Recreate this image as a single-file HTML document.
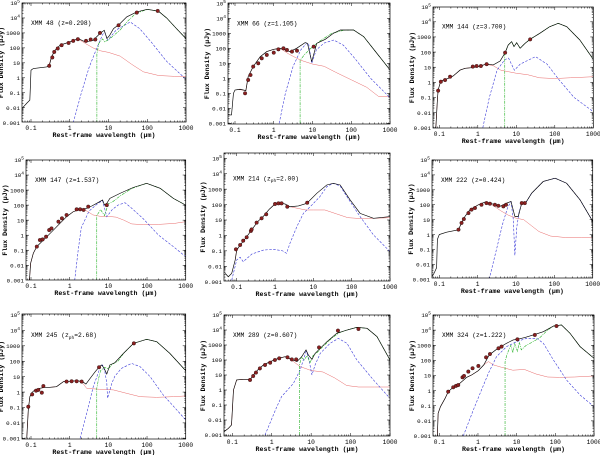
<!DOCTYPE html>
<html><head><meta charset="utf-8"><style>
html,body{margin:0;padding:0;background:#fff;}
svg{display:block;font-family:"Liberation Mono",monospace;}
</style></head><body>
<svg id="fig" width="600" height="455" viewBox="0 0 600 455" xmlns="http://www.w3.org/2000/svg"></svg>
<script>
// All values are [log10 wavelength (um), log10 flux density (uJy)]
const xTickLabels = ["0.1","1","10","100","1000"];
const yTickLabels = ["0.001","0.01","0.1","1","10","100","1000","10^4","10^5"];
const panelTitles = ["XMM 48 (z=0.298)","XMM 66 (z=1.105)","XMM 144 (z=3.700)","XMM 147 (z=1.537)","XMM 214 (z_ph=2.00)","XMM 222 (z=0.424)","XMM 245 (z_ph=2.68)","XMM 289 (z=0.607)","XMM 324 (z=1.222)"];

const p1Total=[[-1.23,-2.04],[-1.11,-1.7],[-1.03,-1.49],[-1.0,0.51],[-0.94,0.62],[-0.6,0.73],[-0.53,0.8],[-0.47,1.4],[-0.38,1.84],[-0.25,2.18],[0,2.4],[0.22,2.62],[0.4,2.4],[0.6,2.5],[0.78,2.96],[0.89,3.18],[0.96,2.62],[1.03,2.84],[1.13,3.29],[1.28,3.58],[1.47,4.07],[1.73,4.4],[2,4.58],[2.29,4.45],[2.5,4.0],[2.75,3.3],[3,2.62]];
const p1Stellar=[[-0.55,0.75],[-0.47,1.4],[-0.38,1.84],[-0.25,2.18],[0,2.4],[0.22,2.6],[0.4,2.3],[0.6,2.0],[0.8,1.8],[1.0,1.7],[1.3,1.45],[1.6,0.9],[1.9,0.4],[2.3,0.15],[2.7,0.1],[3,0.1]];
const p1Torus=[[0.09,-3],[0.3,-1],[0.5,0.7],[0.7,2.0],[0.85,2.9],[0.9,3.07],[0.98,2.5],[1.2,3.2],[1.56,3.73],[1.8,3.3],[2.1,2.4],[2.5,1.1],[3,-0.1]];
const p1Starburst=[[0.7,-3],[0.7,1.6],[0.75,2.3],[0.85,2.6],[0.9,2.4],[1.0,2.55],[1.1,2.75],[1.3,3.2],[1.5,3.8],[1.7,4.3],[2,4.57],[2.29,4.45],[2.5,4.0],[2.75,3.3],[3,2.62]];
const p1Points=[[-0.53,0.8],[-0.45,1.36],[-0.4,1.73],[-0.31,1.96],[-0.21,2.18],[-0.03,2.33],[0.09,2.47],[0.21,2.58],[0.42,2.47],[0.54,2.56],[0.66,2.56],[0.78,3.0],[1.26,3.51],[1.73,4.36],[2.27,4.47]];

const p2Total=[[-1.17,-2.44],[-1.09,-2.44],[-1.04,-1.0],[-1,-0.78],[-0.87,-0.73],[-0.72,-0.82],[-0.66,0.11],[-0.53,0.78],[-0.35,1.44],[-0.18,1.78],[0,1.93],[0.16,2.0],[0.42,1.78],[0.59,2.0],[0.81,2.38],[0.87,2.33],[0.98,1.11],[1.11,2.33],[1.33,2.6],[1.54,3.0],[1.72,3.22],[2.06,3.22],[2.32,2.78],[2.66,1.67],[3,0.56]];
const p2Stellar=[[-0.9,-0.75],[-0.72,-0.82],[-0.66,0.11],[-0.53,0.78],[-0.35,1.44],[-0.18,1.78],[0,1.93],[0.16,2.0],[0.4,1.6],[0.7,1.2],[1,0.95],[1.3,0.8],[1.6,0.4],[2,-0.1],[2.4,-0.6],[2.7,-1.2],[3,-1.2]];
const p2Torus=[[0.14,-3],[0.3,-1],[0.5,0.8],[0.7,1.9],[0.85,2.35],[0.9,2.3],[0.98,1.0],[1.1,1.9],[1.3,2.35],[1.55,2.55],[1.8,2.2],[2.1,1.3],[2.5,0],[3,-1.3]];
const p2Starburst=[[0.68,-3],[0.68,1.2],[0.8,1.6],[1.0,2.1],[1.2,2.5],[1.5,3.0],[1.8,3.2],[2.06,3.22],[2.32,2.78],[2.66,1.67],[3,0.56]];
const p2Points=[[-0.74,-1],[-0.66,-0.11],[-0.6,0.22],[-0.53,0.78],[-0.4,1],[-0.31,1.33],[-0.18,1.56],[0,1.71],[0.12,1.93],[0.25,2.0],[0.34,1.89],[0.47,1.78],[0.6,1.84],[1.03,2.11]];

const p3Total=[[-1.09,-3],[-1.05,-1.17],[-1.03,-0.5],[-0.98,-0.07],[-0.9,0.15],[-0.77,0.26],[-0.64,0.42],[-0.46,0.81],[-0.33,0.93],[-0.16,0.97],[0.01,1.04],[0.23,1.21],[0.4,1.15],[0.58,1.41],[0.71,1.96],[0.79,2.47],[0.88,2.69],[0.94,2.36],[1.01,2.62],[1.1,2.25],[1.23,2.58],[1.36,2.85],[1.61,3.24],[1.87,3.68],[2.09,3.9],[2.31,3.68],[2.65,2.8],[3,1.52]];
const p3Stellar=[[-1.09,-3],[-1.05,-1.17],[-1.03,-0.5],[-0.98,-0.07],[-0.9,0.15],[-0.77,0.26],[-0.64,0.42],[-0.46,0.81],[-0.33,0.93],[-0.16,0.97],[0.01,1.04],[0.2,1.2],[0.4,1.1],[0.6,0.8],[0.8,0.7],[1.0,0.6],[1.3,0.5],[1.6,0.3],[2,0.25],[2.4,0.3],[3,0.37]];
const p3Torus=[[0.13,-3],[0.3,-1],[0.5,0.8],[0.7,1.5],[0.8,1.6],[0.95,0.8],[1.1,1.2],[1.3,1.45],[1.5,1.7],[1.8,1.2],[2.1,0.2],[2.5,-1.0],[3,-1.94]];
const p3Starburst=[[0.7,-3],[0.7,1.9],[0.79,2.47],[0.88,2.69],[0.94,2.36],[1.01,2.62],[1.1,2.25],[1.23,2.58],[1.36,2.85],[1.61,3.24],[1.87,3.68],[2.09,3.9],[2.31,3.68],[2.65,2.8],[3,1.52]];
const p3Points=[[-1.03,-0.55],[-0.96,0.04],[-0.85,0.15],[-0.72,0.37],[-0.13,1.04],[-0.03,1.08],[0.08,1.08],[0.23,1.2],[0.71,1.96],[1.36,2.84]];

const p4Total=[[-1.04,-3],[-1.01,-1.87],[-0.94,-1.2],[-0.85,-0.76],[-0.72,-0.43],[-0.59,-0.1],[-0.42,0.34],[-0.25,0.79],[-0.08,1.23],[0.09,1.56],[0.27,1.72],[0.44,1.78],[0.57,1.94],[0.7,2.12],[0.85,2.34],[0.9,2.01],[0.96,2.12],[1.04,2.45],[1.3,2.78],[1.65,3.18],[1.99,3.45],[2.34,3.12],[2.68,2.45],[3,2.0]];
const p4Stellar=[[-1.04,-3],[-1.01,-1.87],[-0.94,-1.2],[-0.85,-0.76],[-0.72,-0.43],[-0.59,-0.1],[-0.42,0.34],[-0.25,0.79],[-0.08,1.23],[0.09,1.56],[0.3,1.75],[0.45,1.6],[0.6,1.35],[0.8,1.25],[1.0,1.25],[1.2,1.2],[1.4,1.0],[1.6,0.75],[1.9,0.7],[2.3,0.72],[2.7,0.78],[3,0.9]];
const p4Torus=[[0.13,-3],[0.22,-1.0],[0.3,0.5],[0.5,1.6],[0.7,2.05],[0.85,2.3],[0.96,1.23],[1.1,1.7],[1.25,2.0],[1.43,2.16],[1.6,1.8],[1.9,1.1],[2.3,0],[2.7,-0.8],[3,-1.43]];
const p4Starburst=[[0.7,-3],[0.7,1.3],[0.8,1.7],[0.9,1.3],[1.0,2.1],[1.1,2.2],[1.3,2.6],[1.6,3.1],[1.99,3.45],[2.34,3.12],[2.68,2.45],[3,2.0]];
const p4Points=[[-0.85,-0.76],[-0.77,-0.32],[-0.7,-0.28],[-0.61,-0.1],[-0.53,0.34],[-0.47,0.45],[-0.29,0.9],[-0.2,1.12],[-0.08,1.34],[0.18,1.72],[0.27,1.72],[0.36,1.68],[0.48,1.9],[0.96,2.0]];

const p5Total=[[-1.3,-2.46],[-1.22,-2.68],[-1.13,-2.46],[-1.04,-1.6],[-1,-0.95],[-0.9,-0.6],[-0.75,-0.12],[-0.6,0.39],[-0.45,0.9],[-0.3,1.25],[-0.15,1.7],[0,2.04],[0.13,2.08],[0.26,2.04],[0.39,1.86],[0.61,1.91],[0.83,2.08],[1.09,2.73],[1.35,3.27],[1.52,3.38],[1.7,3.27],[1.96,2.3],[2.22,1.43],[2.57,1.11],[3,1.22]];
const p5Stellar=[[-1.04,-1.6],[-1,-0.95],[-0.9,-0.6],[-0.75,-0.12],[-0.6,0.39],[-0.45,0.9],[-0.3,1.25],[-0.15,1.7],[0,2.04],[0.13,2.08],[0.26,2.04],[0.39,1.86],[0.6,1.75],[0.8,1.65],[1.0,1.65],[1.3,1.65],[1.6,1.4],[1.9,1.15],[2.2,1.1],[2.5,1.1],[3,1.15]];
const p5Torus=[[-1.13,-2.9],[-1,-1.59],[-0.91,-1.42],[-0.83,-1.7],[-0.6,-1.2],[-0.3,-0.95],[-0.05,-0.9],[0.2,-1.0],[0.3,-1.16],[0.39,-0.51],[0.57,0.57],[0.74,1.43],[0.96,1.97],[1.17,2.51],[1.35,3.16],[1.52,3.38],[1.7,3.2],[1.96,2.19],[2.22,1.22],[2.57,0.03],[3,-1.05]];
const p5Starburst=[];
const p5Points=[[-1.02,-0.9],[-0.91,-0.62],[-0.83,-0.34],[-0.74,-0.12],[-0.63,0.29],[-0.61,0.39],[-0.48,0.83],[-0.35,1.11],[-0.23,1.37],[0,2.04],[0.09,2.08],[0.17,2.08],[0.32,1.86],[0.84,2.12]];

const p6Total=[[-1.2,-2.89],[-1.13,-2.56],[-1.07,-2.22],[-1.05,-0.33],[-1,0],[-0.81,0.16],[-0.55,0.29],[-0.5,0.33],[-0.42,0.78],[-0.33,1.22],[-0.2,1.67],[0.02,2.0],[0.19,2.18],[0.41,2.04],[0.58,1.89],[0.76,2.11],[0.87,2.22],[0.97,1.22],[1.06,1.22],[1.15,2.11],[1.26,2.16],[1.41,2.78],[1.71,3.56],[2.02,3.78],[2.32,3.44],[2.67,2.33],[3,0.89]];
const p6Stellar=[[-0.5,0.33],[-0.42,0.78],[-0.33,1.22],[-0.2,1.67],[0.02,2.0],[0.19,2.18],[0.4,1.95],[0.6,1.6],[0.8,1.3],[1.0,1.1],[1.2,1.0],[1.4,0.6],[1.6,0.2],[1.9,-0.1],[2.3,-0.2],[2.7,-0.2],[3,-0.22]];
const p6Torus=[[0.3,-3],[0.5,-0.9],[0.65,0.7],[0.78,1.8],[0.87,2.2],[0.93,1.0],[0.97,-1.4],[1.02,0.5],[1.08,1.5],[1.15,2.1],[1.26,2.16],[1.41,2.78],[1.71,3.56],[2.02,3.78],[2.32,3.44],[2.67,2.33],[3,0.89]];
const p6Starburst=[];
const p6Points=[[-0.5,0.33],[-0.42,0.78],[-0.36,1.04],[-0.24,1.44],[-0.16,1.67],[-0.07,1.78],[0.1,2.0],[0.23,2.11],[0.32,2.07],[0.45,2.0],[0.54,1.93],[0.67,1.89],[0.74,2.0],[1.15,2.11],[1.23,2.11]];

const p7Total=[[-1.11,-3],[-1.07,-1.16],[-1.03,-0.3],[-0.98,-0.04],[-0.9,0.14],[-0.77,0.24],[-0.64,0.31],[-0.51,0.31],[-0.34,0.35],[-0.16,0.68],[0,0.7],[0.2,0.74],[0.33,0.68],[0.42,0.52],[0.53,0.89],[0.66,1.32],[0.77,1.65],[0.83,1.76],[0.89,1.54],[0.96,1.17],[1.04,1.76],[1.17,1.91],[1.39,2.51],[1.65,3.16],[1.99,3.42],[2.25,3.27],[2.59,2.51],[3,1.39]];
const p7Stellar=[[-1.11,-3],[-1.07,-1.16],[-1.03,-0.3],[-0.98,-0.04],[-0.9,0.14],[-0.77,0.24],[-0.64,0.31],[-0.51,0.31],[-0.34,0.35],[-0.16,0.68],[0,0.7],[0.2,0.74],[0.33,0.6],[0.44,0.24],[0.78,0.18],[1.13,0.14],[1.47,-0.08],[1.82,-0.3],[2.25,-0.34],[2.68,-0.3],[3,-0.25]];
const p7Torus=[[0.27,-3],[0.44,-1.38],[0.61,0.35],[0.78,1.54],[0.85,1.76],[0.91,1.32],[0.96,0.57],[0.98,-0.4],[1.09,0.57],[1.17,1.04],[1.34,1.54],[1.6,1.86],[1.82,1.65],[2.08,1.0],[2.42,-0.19],[2.77,-1.16],[3,-1.81]];
const p7Starburst=[[0.7,-3],[0.7,0.24],[0.75,0.9],[0.8,1.4],[0.9,1.6],[1.0,1.5],[1.1,1.8],[1.25,2.0],[1.39,2.5],[1.65,3.16],[1.99,3.42],[2.25,3.27],[2.59,2.51],[3,1.39]];
const p7Points=[[-1.07,-0.95],[-0.97,-0.15],[-0.87,0.09],[-0.81,0.14],[-0.72,-0.04],[-0.68,0.39],[-0.08,0.68],[0.05,0.7],[0.18,0.7],[0.31,0.68],[0.76,1.61],[1.66,3.16]];

const p8Total=[[-1.21,-2.78],[-1.1,-2.56],[-1.02,-2.33],[-0.97,0],[-0.89,0.67],[-0.72,0.71],[-0.59,0.71],[-0.55,0.67],[-0.47,1],[-0.34,1.38],[-0.21,1.67],[-0.04,1.89],[0.17,2.11],[0.34,2.22],[0.51,2.04],[0.64,1.89],[0.76,2.22],[0.87,2.67],[0.93,2.33],[1.02,2.04],[1.1,2.44],[1.23,2.78],[1.4,3.22],[1.65,3.78],[1.91,4.0],[2.16,4.18],[2.42,4.11],[2.67,3.56],[3,2.0]];
const p8Stellar=[[-1.21,-2.78],[-1.1,-2.56],[-1.02,-2.33],[-0.97,0],[-0.89,0.67],[-0.72,0.71],[-0.59,0.71],[-0.55,0.67],[-0.47,1],[-0.34,1.38],[-0.21,1.67],[-0.04,1.89],[0.17,2.11],[0.34,2.22],[0.5,2.0],[0.72,1.56],[1.0,1.3],[1.3,1.2],[1.6,0.8],[1.9,0.3],[2.2,0.2],[2.6,0.2],[3,0.2]];
const p8Torus=[[-0.17,-3],[0.13,-1.11],[0.25,-0.44],[0.4,0],[0.55,0.44],[0.72,1.33],[0.87,2.56],[0.93,2.22],[1.02,1.0],[1.1,1.67],[1.23,2.44],[1.48,3.11],[1.69,3.44],[1.91,3.11],[2.16,2.0],[2.58,0.67],[3,-0.56]];
const p8Starburst=[[0.7,-3],[0.7,1.6],[0.75,2.2],[0.82,2.0],[0.9,2.3],[0.97,1.8],[1.05,2.3],[1.15,2.5],[1.3,2.9],[1.5,3.4],[1.7,3.8],[1.91,4.0],[2.16,4.18],[2.42,4.11],[2.67,3.56],[3,2.0]];
const p8Points=[[-0.55,0.67],[-0.47,0.93],[-0.4,1.16],[-0.3,1.44],[-0.17,1.67],[-0.04,1.82],[0.08,2.0],[0.19,2.11],[0.4,2.18],[0.51,2.04],[0.62,2.04],[1.2,2.84],[1.68,3.96],[2.2,4.07]];

const p9Total=[[-1.05,-3],[-1.03,-1.5],[-0.97,-1.06],[-0.85,-0.51],[-0.77,-0.07],[-0.64,0.22],[-0.47,0.48],[-0.29,0.88],[-0.16,1.04],[0.01,1.32],[0.15,1.7],[0.29,2.36],[0.48,2.73],[0.74,3.13],[0.91,3.35],[1.02,3.39],[1.22,3.52],[1.43,3.68],[1.69,3.9],[1.95,4.27],[2.16,4.34],[2.38,3.79],[2.64,2.91],[3,2.14]];
const p9Stellar=[[-1.05,-3],[-1.03,-1.5],[-0.97,-1.06],[-0.85,-0.51],[-0.77,-0.07],[-0.64,0.22],[-0.47,0.48],[-0.29,0.88],[-0.16,1.04],[0.01,1.32],[0.15,1.7],[0.27,1.92],[0.4,1.7],[0.6,1.55],[0.9,1.35],[1.2,1.4],[1.5,1.1],[1.8,0.9],[2.1,0.88],[2.5,0.9],[3,0.97]];
const p9Torus=[[-0.38,-3],[-0.12,-1.28],[0.09,0.04],[0.27,1.15],[0.48,2.25],[0.74,2.91],[1.0,3.24],[1.26,3.46],[1.52,3.46],[1.69,3.13],[1.95,2.03],[2.29,0.7],[2.64,-0.29],[3,-1.06]];
const p9Starburst=[[0.7,-3],[0.7,1.9],[0.75,2.4],[0.85,3.0],[0.9,2.5],[0.95,3.1],[1.02,2.6],[1.07,3.2],[1.12,2.7],[1.25,3.0],[1.4,3.2],[1.6,3.5],[1.8,4.0],[1.95,4.27],[2.16,4.34],[2.38,3.79],[2.64,2.91],[3,2.14]];
const p9Points=[[-0.77,-0.07],[-0.64,0.22],[-0.57,0.31],[-0.51,0.37],[-0.4,0.88],[-0.36,0.97],[-0.25,1.26],[-0.14,1.48],[0.01,1.63],[0.21,2.2],[0.31,2.42],[0.53,2.8],[0.61,2.91],[1.02,3.39],[1.47,3.68],[2.03,4.27]];

const seriesSets=[
 [p1Total,p1Stellar,p1Torus,p1Starburst,p1Points],
 [p2Total,p2Stellar,p2Torus,p2Starburst,p2Points],
 [p3Total,p3Stellar,p3Torus,p3Starburst,p3Points],
 [p4Total,p4Stellar,p4Torus,p4Starburst,p4Points],
 [p5Total,p5Stellar,p5Torus,p5Starburst,p5Points],
 [p6Total,p6Stellar,p6Torus,p6Starburst,p6Points],
 [p7Total,p7Stellar,p7Torus,p7Starburst,p7Points],
 [p8Total,p8Stellar,p8Torus,p8Starburst,p8Points],
 [p9Total,p9Stellar,p9Torus,p9Starburst,p9Points]];

const layouts=[
 {l:22,t:3,b:122,x0:31,x1:186,y5:3,ym:122.7},
 {l:228,t:3,b:124,x0:235,x1:390,y5:3.3,ym:123.3},
 {l:433,t:7,b:128,x0:439.3,x1:593.3,y5:6.7,ym:127.7},
 {l:26,t:160,b:280,x0:31,x1:185.7,y5:160,ym:280.3},
 {l:224,t:153,b:281,x0:236.7,x1:390,y5:158.3,ym:281.7},
 {l:432,t:160,b:278,x0:439.3,x1:592.7,y5:160,ym:279.3},
 {l:22,t:314,b:439,x0:31,x1:185.7,y5:315,ym:438.3},
 {l:224,t:315,b:436,x0:232.3,x1:390,y5:315,ym:435},
 {l:433,t:315,b:436,x0:439.3,x1:594,y5:315,ym:436}];

const NS="http://www.w3.org/2000/svg";
const svg=document.getElementById('fig');
function mk(tag,attrs,parent){const e=document.createElementNS(NS,tag);for(const k in attrs)e.setAttribute(k,attrs[k]);(parent||svg).appendChild(e);return e;}

layouts.forEach((L,i)=>{
  const g=mk('g',{});
  
  
  const R=L.x1;
  const sx=lx=>L.x0+(lx+1)*(L.x1-L.x0)/4;
  const sy=ly=>L.y5+(5-ly)*(L.ym-L.y5)/8;
  const cid='clip'+i;
  const cp=mk('clipPath',{id:cid},g);mk('rect',{x:L.l,y:L.t,width:R-L.l,height:L.b-L.t},cp);
  const plot=mk('g',{'clip-path':'url(#'+cid+')'},g);
  
  
  const [tot,ste,tor,sb,pts]=seriesSets[i];
  const path=arr=>arr.map((p,j)=>(j?'L':'M')+sx(p[0]).toFixed(2)+','+sy(p[1]).toFixed(2)).join('');
  if(ste.length){const e=mk('path',{d:path(ste),fill:'none',stroke:'#e86a6a','stroke-width':0.5},plot);
    }
  if(tor.length){const e=mk('path',{d:path(tor),fill:'none',stroke:'#3a3ad8','stroke-width':0.6,'stroke-dasharray':'2.5,1.5'},plot);
    }
  if(sb.length){const e=mk('path',{d:path(sb),fill:'none',stroke:'#22b022','stroke-width':0.6,'stroke-dasharray':'3,1,1,1'},plot);
    }
  {const e=mk('path',{d:path(tot),fill:'none',stroke:'#000','stroke-width':0.65},plot);
    }
  pts.forEach(p=>{const c=mk('circle',{cx:sx(p[0]),cy:sy(p[1]),r:1.8,fill:'#8a2020',stroke:'#000','stroke-width':0.3},plot);
    });
  const fr=mk('rect',{x:L.l,y:L.t,width:R-L.l,height:L.b-L.t,fill:'none',stroke:'#000','stroke-width':0.7},g);
  
  let tk='';
  for(let d=-2;d<=3;d++){for(let m=1;m<10;m++){const lx=d+Math.log10(m);const x=sx(lx);if(x<L.l||x>R)continue;const len=m==1?3:1.5;
    tk+='M'+x+','+L.b+'v'+(-len)+'M'+x+','+L.t+'v'+len;}}
  for(let d=-3;d<=5;d++){for(let m=1;m<10;m++){const ly=d+Math.log10(m);const y=sy(ly);if(y<L.t||y>L.b)continue;const len=m==1?3:1.5;
    tk+='M'+L.l+','+y+'h'+len+'M'+R+','+y+'h'+(-len);}}
  const tp=mk('path',{d:tk,stroke:'#000','stroke-width':0.5,fill:'none'},g);
  
  xTickLabels.forEach((s,k)=>{const t=mk('text',{x:sx(k-1),y:L.b+8,'font-size':6.2,'text-anchor':'middle'},g);t.textContent=s;
    });
  yTickLabels.forEach((s,k)=>{const t=mk('text',{x:L.l-2,y:sy(k-3)+2.2,'font-size':5.8,'text-anchor':'end'},g);
    
    if(s.indexOf('^')>0){const [b,e]=s.split('^');t.textContent=b;const sp=mk('tspan',{dy:-2.5,'font-size':4.5},t);sp.textContent=e;}
    else t.textContent=s;});
  const xt=mk('text',{x:(L.l+R)/2,y:L.b+15,'font-size':6.6,'text-anchor':'middle','font-weight':'bold'},g);
  xt.textContent='Rest-frame wavelength (\u03bcm)';
  
  const yx=L.l-19, yy=(L.t+L.b)/2;
  const yt=mk('text',{x:yx,y:yy,'font-size':6.6,'text-anchor':'middle','font-weight':'bold',transform:'rotate(-90 '+yx+' '+yy+')'},g);
  yt.textContent='Flux Density (\u03bcJy)';
  
  const title=panelTitles[i];
  const tt=mk('text',{x:L.l+9,y:L.y5+22,'font-size':6.3},g);
  
  if(title.indexOf('z_ph')>=0){const parts=title.split('z_ph');
    mk('tspan',{},tt).textContent=parts[0]+'z';
    mk('tspan',{dy:1.8,'font-size':4.5},tt).textContent='ph';
    mk('tspan',{dy:-1.8},tt).textContent=parts[1];}
  else tt.textContent=title;
});
</script>
</body></html>
